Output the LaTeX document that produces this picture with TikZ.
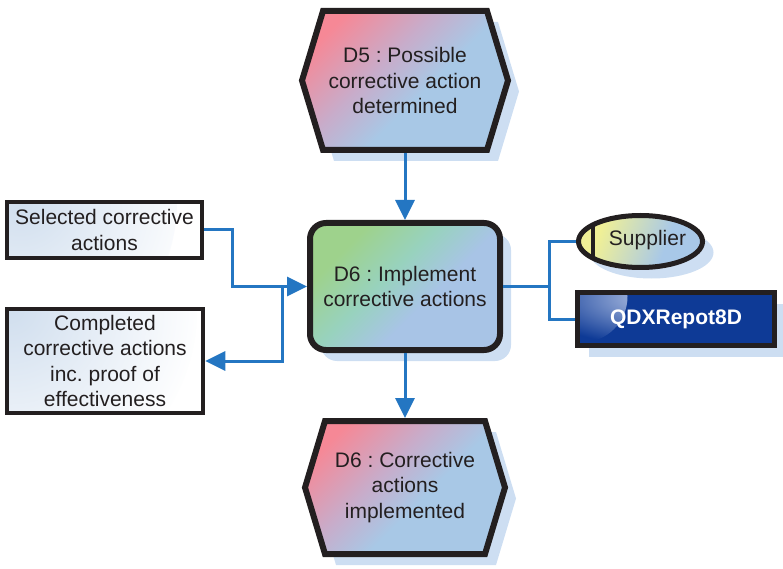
\documentclass[tikz,border=0pt]{standalone}
\usepackage{fontspec}
\setmainfont{Liberation Sans}
\usetikzlibrary{calc,arrows.meta,shadows,shapes.geometric}

\pgfdeclarelayer{bg}
\pgfsetlayers{bg,main}

\definecolor{ink}{RGB}{35,31,32}
\definecolor{flow}{RGB}{36,118,194}
\definecolor{shadowblue}{RGB}{205,222,242}
\definecolor{hexpink}{RGB}{246,136,150}
\definecolor{hexmid}{RGB}{200,172,202}
\definecolor{hexblue}{RGB}{168,200,230}
\definecolor{actgreen}{RGB}{158,210,140}
\definecolor{actteal}{RGB}{152,210,190}
\definecolor{actblue}{RGB}{168,196,230}
\definecolor{supyellow}{RGB}{240,240,150}
\definecolor{supblue}{RGB}{168,200,232}
\definecolor{docblue}{RGB}{208,222,238}
\definecolor{sysdark}{RGB}{14,58,150}
\definecolor{syslight}{RGB}{185,200,232}

\pgfdeclarehorizontalshading{hexshade}{100bp}{color(0bp)=(hexpink); color(24bp)=(hexpink); color(42bp)=(hexmid); color(56bp)=(hexblue); color(100bp)=(hexblue)}
\pgfdeclarehorizontalshading{actshade}{100bp}{color(0bp)=(actgreen); color(28bp)=(actgreen); color(44bp)=(actteal); color(58bp)=(actblue); color(100bp)=(actblue)}
\pgfdeclarehorizontalshading{supshade}{100bp}{color(0bp)=(supyellow); color(30bp)=(supyellow); color(62bp)=(supblue); color(100bp)=(supblue)}

\tikzset{
  txt/.style={font=\fontsize{21}{25.5}\selectfont, text=ink, align=center},
  softshadow/.style={drop shadow={shadow xshift=11pt, shadow yshift=-11pt, fill=shadowblue, opacity=1}},
  hexbox/.style={txt, inner sep=0pt, outer sep=0pt},
  hexline/.style={draw=ink, line width=6pt, line join=miter, shading=hexshade, shading angle=-45, softshadow},
  actbox/.style={txt, shade, shading=actshade, shading angle=-45, draw=ink, line width=6pt,
    rounded corners=16pt, minimum width=190pt, minimum height=127pt, inner sep=0pt, softshadow},
  docbox/.style={txt, fill=white, draw=ink, line width=4.5pt, inner sep=0pt,
    path picture={\shade[inner color=docblue, outer color=white]
      (path picture bounding box.north west) circle (#1);}},
  supbox/.style={ellipse, shade, shading=supshade, shading angle=-20, draw=ink, line width=5pt,
    minimum width=124pt, minimum height=52pt, inner sep=0pt, softshadow},
  sysbox/.style={fill=sysdark, draw=ink, line width=5.5pt,
    minimum width=197pt, minimum height=53pt, inner sep=0pt, softshadow,
    path picture={\shade[inner color=syslight, outer color=sysdark]
      ($(path picture bounding box.north west)+(4,-4)$) circle (46pt);},
    font=\fontsize{21}{25.5}\selectfont\bfseries, text=white},
  conn/.style={draw=flow, line width=3pt, -{Triangle[length=20pt,width=19pt]}},
  wire/.style={draw=flow, line width=3pt},
}

\begin{document}
\frenchspacing
\begin{tikzpicture}[x=1pt, y=1pt]
\useasboundingbox (0,0) rectangle (783,568);

% events (hexagons) : text nodes, outlines drawn on the background layer
\node[hexbox, minimum width=212pt, minimum height=145pt] (d5) at (405,487.5)
  {D5 : Possible\\corrective action\\determined};
\node[hexbox, minimum width=206pt, minimum height=139pt] (d6o) at (405,80.5)
  {D6 : Corrective\\actions\\implemented};

\begin{pgfonlayer}{bg}
  \shadedraw[hexline] ($(d5.west)+(3,0)$) -- ($(d5.north west)+(24,-3)$) -- ($(d5.north east)+(-24,-3)$)
    -- ($(d5.east)+(-3,0)$) -- ($(d5.south east)+(-24,3)$) -- ($(d5.south west)+(24,3)$) -- cycle;
  \shadedraw[hexline] ($(d6o.west)+(3,0)$) -- ($(d6o.north west)+(23,-3)$) -- ($(d6o.north east)+(-23,-3)$)
    -- ($(d6o.east)+(-3,0)$) -- ($(d6o.south east)+(-23,3)$) -- ($(d6o.south west)+(23,3)$) -- cycle;
\end{pgfonlayer}

% function
\node[actbox] (d6) at (405,281.5) {D6 : Implement\\corrective actions};

% information objects
\node[docbox=170pt, minimum width=195pt, minimum height=56pt] (sel) at (104.5,338)
  {Selected corrective\\actions};
\node[docbox=190pt, minimum width=196pt, minimum height=104pt] (comp) at (105,207)
  {Completed\\corrective actions\\inc. proof of\\effectiveness};

% organisational unit
\node[supbox] (sup) at (640.5,326.5) {};
\begin{scope}
  \clip (sup.center) ellipse [x radius=62pt, y radius=26pt];
  \draw[ink, line width=4.5pt] ($(sup.center)+(-47.5,-30)$) -- ($(sup.center)+(-47.5,30)$);
\end{scope}
\node[txt] (suplabel) at ($(sup.center)+(7,1)$) {Supplier};

% application system
\node[sysbox] (qdx) at (676,249) {QDXRepot8D};

% control flow
\draw[conn] (d5.south) -- (d6.north);
\draw[conn] (d6.south) -- (d6o.north);

% information flow
\draw[conn] (sel.east) -- ++(28,0) |- (d6.west);
\coordinate (split) at ($(d6.west)+(-25,0)$);
\draw[conn] (split) |- (comp.east);

% assignments
\draw[wire] (d6.east) -- ++(46,0) coordinate (fork);
\draw[wire] (fork) |- (sup.west);
\draw[wire] (fork) |- (qdx.west);
\end{tikzpicture}
\end{document}
